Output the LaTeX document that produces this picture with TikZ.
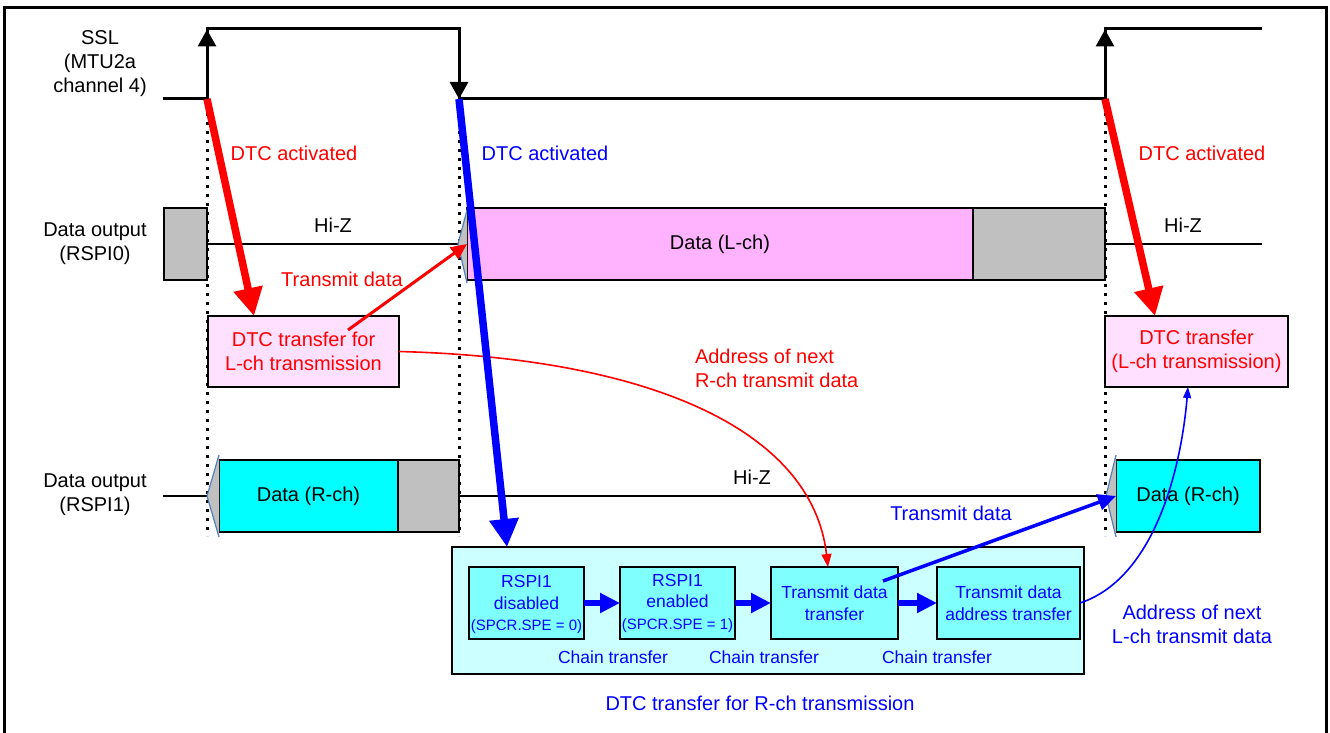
\documentclass[tikz,border=0pt]{standalone}
\usepackage{fontspec}
\setmainfont{Liberation Sans}
\usetikzlibrary{arrows.meta,calc}
\definecolor{grayfill}{RGB}{192,192,192}
\definecolor{pinkdata}{RGB}{255,179,255}
\definecolor{pinkdtc}{RGB}{255,224,255}
\definecolor{cyandata}{RGB}{0,255,255}
\definecolor{cyanbig}{RGB}{204,255,255}
\definecolor{cyaninner}{RGB}{128,255,255}
\definecolor{edgeblue}{RGB}{79,129,189}
\definecolor{tred}{RGB}{255,0,0}
\definecolor{tblue}{RGB}{0,0,255}
\begin{document}
\begin{tikzpicture}[x=1pt,y=-1pt,
  every node/.style={inner sep=0pt,outer sep=0pt},
  big/.style={font=\fontsize{20}{24}\selectfont,align=center},
  small/.style={font=\fontsize{17.5}{21.5}\selectfont,align=center},
  bx/.style={draw=black,line width=2pt,anchor=north west},
  wave/.style={line width=3pt},
  edgetip/.style={line width=3pt,-{Triangle[length=17pt,width=18pt]}},
  hiz/.style={line width=1.6pt},
  dots/.style={line width=3pt,dash pattern=on 3pt off 6pt},
  bigarr/.style={line width=7.5pt,-{Triangle[length=28pt,width=28pt]}},
  chain/.style={tblue,line width=6pt,-{Triangle[length=20pt,width=19pt]}},
  tri/.style={edgeblue,line width=1.2pt},
  ibox/.style={bx,fill=cyaninner,minimum height=72pt,small,text=tblue}
]
\useasboundingbox (0,0) rectangle (1330,733);
% frame
\draw[line width=3pt] (4.5,733) -- (4.5,7.5) -- (1326,7.5) -- (1326,733);

% SSL waveform
\coordinate (w0) at (163,99);
\coordinate (e1) at (207,99);
\coordinate (e2) at (459,99);
\coordinate (e3) at (1105,99);
\coordinate (wend) at (1262,29);
\draw[dots] (207,104) -- (207,536);
\draw[dots] (459,104) -- (459,536);
\draw[dots] (1105,104) -- (1105,536);
\draw[wave] (w0) -- (e1) -- (207,29) -- (459,29) -- (e2) -- (e3) -- (1105,29) -- (wend);
\draw[edgetip] (e1) -- (207,29.5);
\draw[edgetip] (459,45) -- (e2);
\draw[edgetip] (e3) -- (1105,29.5);

% RSPI0 row
\node[bx,fill=grayfill,minimum width=43pt,minimum height=72pt] (g0) at (164,208) {};
\coordinate (t0) at (458,244);
\draw[hiz] (g0.east) -- (t0);
\node[bx,fill=pinkdata,minimum width=506pt,minimum height=72pt,big] (p0) at (467,208) {Data (L-ch)};
\node[bx,fill=grayfill,minimum width=132pt,minimum height=72pt] (g0b) at (973,208) {};
\coordinate (hz0) at (1262,244);
\draw[hiz] (g0b.east) -- (hz0);
\fill[grayfill] (467,210) -- (t0) -- (467,283) -- cycle;
\draw[tri] (467,210) -- (t0) -- (467,283);

% RSPI1 row
\coordinate (w1) at (163,496);
\coordinate (t1) at (207,496);
\coordinate (t2) at (1106,496);
\draw[hiz] (w1) -- (t1);
\node[bx,fill=cyandata,minimum width=179pt,minimum height=72pt,big] (d1) at (219,460) {Data (R-ch)};
\node[bx,fill=grayfill,minimum width=61pt,minimum height=72pt] (g1) at (398,460) {};
\draw[hiz] (g1.east) -- (t2);
\node[bx,fill=cyandata,minimum width=144pt,minimum height=72pt,big] (d2) at (1116,460) {Data (R-ch)};
\fill[grayfill] (219,455) -- (t1) -- (219,537) -- cycle;
\draw[tri] (219,455) -- (t1) -- (219,537);
\fill[grayfill] (1116,455) -- (t2) -- (1116,537) -- cycle;
\draw[tri] (1116,455) -- (t2) -- (1116,537);

% DTC L-ch boxes
\node[bx,fill=pinkdtc,minimum width=191pt,minimum height=71pt,big,text=tred] (dtcL) at (208,316) {DTC transfer for\\L-ch transmission};
\node[bx,fill=pinkdtc,minimum width=183pt,minimum height=71pt,big,text=tred] (dtcR) at (1105,316) {DTC transfer\\(L-ch transmission)};

% DTC R-ch block
\node[bx,fill=cyanbig,minimum width=632pt,minimum height=127pt] (R) at (452,547) {};
\node[ibox,minimum width=115pt,text depth=0pt] (b1) at (469,567) {RSPI1\\disabled\\{\fontsize{15}{18}\selectfont (SPCR.SPE = 0)}};
\node[ibox,minimum width=115pt] (b2) at (620,567) {RSPI1\\enabled\\{\fontsize{15}{18}\selectfont (SPCR.SPE = 1)}};
\node[ibox,minimum width=127pt] (b3) at (771,567) {Transmit data\\transfer};
\node[ibox,minimum width=143pt] (b4) at (937,567) {Transmit data\\address transfer};
\draw[chain] (b1.east) -- (b2.west);
\draw[chain] (b2.east) -- (b3.west);
\draw[chain] (b3.east) -- (b4.west);
\node[small,text=tblue] (c1) at (613,657) {Chain transfer};
\node[small,text=tblue] (c2) at (764,657) {Chain transfer};
\node[small,text=tblue] (c3) at (937,657) {Chain transfer};
\node[big,text=tblue] (rlbl) at (760,703) {DTC transfer for R-ch transmission};

% left labels
\node[big] (sslL) at (100,64) {SSL\\(MTU2a\\channel 4)};
\node[big] (r0L) at (95,243.5) {Data output\\(RSPI0)};
\node[big] (r1L) at (95,495) {Data output\\(RSPI1)};
\node[big] (hz1) at (333,225) {Hi-Z};
\node[big] (hz2) at (1183,225) {Hi-Z};
\node[big] (hz3) at (752,477) {Hi-Z};

% labels
\node[big,text=tred] (a1) at (294,153) {DTC activated};
\node[big,text=tblue] (a2) at (545,153) {DTC activated};
\node[big,text=tred] (a3) at (1202,153) {DTC activated};
\node[big,text=tred] (tdr) at (342,279) {Transmit data};
\node[big,text=tred,align=left,anchor=west] (adr) at (695,368) {Address of next\\R-ch transmit data};
\node[big,text=tblue] (tdb) at (951,513) {Transmit data};
\node[big,text=tblue] (adl) at (1192,624) {Address of next\\L-ch transmit data};

% connectors
\draw[tred,line width=3pt,-{Triangle[length=16pt,width=14pt]}] ($(dtcL.north west)+(140,14)$) -- (p0.west);
\draw[tred,line width=1.6pt,-{Triangle[length=13pt,width=10pt]}] (dtcL.east) .. controls (650,358) and (812,430) .. ($(b3.north west)+(57,0)$);
\draw[tblue,line width=3.5pt,-{Triangle[length=18pt,width=16pt]}] ($(b3.north west)+(112,14)$) -- (d2.west);
\draw[tblue,line width=1.6pt,-{Triangle[length=11pt,width=8pt]}] (b4.east) .. controls (1150,580) and (1180,480) .. ($(dtcR.south west)+(83,0)$);
\draw[bigarr,tred] (e1) -- ($(dtcL.north west)+(46,0)$);
\draw[bigarr,tred] (e3) -- ($(dtcR.north west)+(50,0)$);
\draw[bigarr,tblue] (e2) -- ($(R.north west)+(55,0)$);
\end{tikzpicture}
\end{document}
